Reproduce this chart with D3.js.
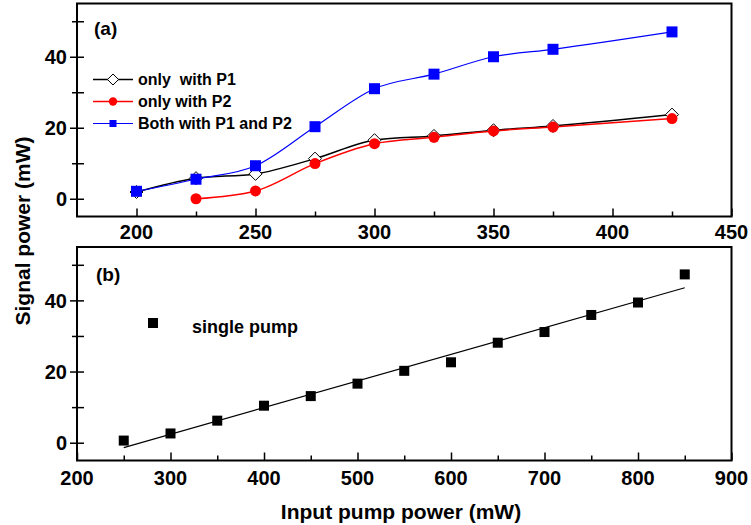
<!DOCTYPE html>
<html>
<head>
<meta charset="utf-8">
<script src="https://cdn.jsdelivr.net/npm/d3@7"></script>
<style>
  html, body { margin: 0; padding: 0; background: #fff; }
  svg { display: block; font-family: "Liberation Sans", Arial, sans-serif; font-weight: bold; }
</style>
</head>
<body>
<svg id="chart" width="751" height="525"></svg>
<script>
// ---- Panel (a): signal power for the three pump configurations ----
const pumpA      = [200, 225, 250, 275, 300, 325, 350, 375, 425];
const onlyP1     = [1.9, 5.8, 7.0, 11.3, 16.5, 17.7, 19.3, 20.5, 23.7];
const onlyP2     = [null, 0.0, 2.2, 9.9, 15.5, 17.3, 19.1, 20.2, 22.6];
const bothP1P2   = [2.1, 5.5, 9.3, 20.3, 31.0, 35.1, 40.0, 42.1, 47.0];
const namesA     = ["only  with P1", "only with P2", "Both with P1 and P2"];
const xTicksA    = [200, 250, 300, 350, 400, 450];
const xMinorA    = [225, 275, 325, 375, 425];

// ---- Panel (b): single pump ----
const pumpB      = [250, 300, 350, 400, 450, 500, 550, 600, 650, 700, 750, 800, 850];
const singlePump = [0.6, 2.6, 6.2, 10.4, 13.1, 16.6, 20.2, 22.6, 28.1, 31.1, 35.9, 39.4, 47.3];
const nameB      = "single pump";
const xTicksB    = [200, 300, 400, 500, 600, 700, 800, 900];
const xMinorB    = [250, 350, 450, 550, 650, 750, 850];

const yTicks     = [0, 20, 40];
const yMinor     = [10, 30, 50];

const svg = d3.select("#chart");
const left = 77, right = 731.5;

function frame(g, x, y, xt, xm, labelOffset) {
  const [y0, y1] = y.range();
  // inward x ticks
  g.append("g").attr("transform", `translate(0,${y0})`)
    .call(d3.axisBottom(x).tickValues(xt).tickSize(-8).tickFormat(""))
    .call(a => a.select(".domain").remove());
  g.append("g").attr("transform", `translate(0,${y0})`)
    .call(d3.axisBottom(x).tickValues(xm).tickSize(-5).tickFormat(""))
    .call(a => a.select(".domain").remove());
  // x tick labels
  g.append("g").selectAll("text").data(xt).join("text")
    .attr("x", d => x(d)).attr("y", y0 + labelOffset)
    .attr("text-anchor", "middle").attr("font-size", 20).text(d => d);
  // y ticks crossing the axis
  g.append("g").attr("transform", `translate(${left},0)`)
    .call(d3.axisLeft(y).tickValues(yTicks).tickSize(7).tickFormat(""))
    .call(a => a.select(".domain").remove());
  g.append("g").attr("transform", `translate(${left},0)`)
    .call(d3.axisRight(y).tickValues(yTicks.concat(yMinor)).tickSize(7).tickFormat(""))
    .call(a => a.select(".domain").remove());
  g.append("g").attr("transform", `translate(${left},0)`)
    .call(d3.axisLeft(y).tickValues(yMinor).tickSize(5).tickFormat(""))
    .call(a => a.select(".domain").remove());
  g.selectAll(".tick line").attr("stroke", "#000").attr("stroke-width", 1.5);
  g.append("g").selectAll("text").data(yTicks).join("text")
    .attr("x", left - 10).attr("y", d => y(d)).attr("dy", "0.36em")
    .attr("text-anchor", "end").attr("font-size", 20).text(d => d);
  // box
  g.append("rect").attr("x", left).attr("y", y1)
    .attr("width", right - left).attr("height", y0 - y1)
    .attr("fill", "none").attr("stroke", "#000").attr("stroke-width", 2);
}

// ================= Panel (a) =================
const xA = d3.scaleLinear().domain([175, 450]).range([left, right]);
const yA = d3.scaleLinear().domain([-5, 55]).range([216.5, 3.5]);
const gA = svg.append("g");
frame(gA, xA, yA, xTicksA, xMinorA, 22);

const seriesA = [
  { name: namesA[0], values: onlyP1,   color: "#000000", width: 1.5, shape: "diamond" },
  { name: namesA[1], values: onlyP2,   color: "#ff0000", width: 1.5, shape: "circle" },
  { name: namesA[2], values: bothP1P2, color: "#0000ff", width: 1.2, shape: "square" }
];

function marker(sel, shape, color, s) {
  if (shape === "diamond") {
    sel.append("path").attr("d", `M0,${-s}L${s},0L0,${s}L${-s},0Z`)
      .attr("fill", "#fff").attr("stroke", "#000").attr("stroke-width", 1);
  } else if (shape === "circle") {
    sel.append("circle").attr("r", s).attr("fill", color);
  } else {
    sel.append("rect").attr("x", -s).attr("y", -s).attr("width", 2 * s).attr("height", 2 * s)
      .attr("fill", color);
  }
}

seriesA.forEach(s => {
  const pts = pumpA.map((p, i) => [p, s.values[i]]).filter(d => d[1] !== null);
  gA.append("path").datum(pts)
    .attr("d", d3.line().x(d => xA(d[0])).y(d => yA(d[1])).curve(d3.curveMonotoneX))
    .attr("fill", "none").attr("stroke", s.color).attr("stroke-width", s.width);
  const sizes = { diamond: 6.5, circle: 5.5, square: 5.5 };
  gA.append("g").selectAll("g").data(pts).join("g")
    .attr("transform", d => `translate(${xA(d[0])},${yA(d[1])})`)
    .each(function () { marker(d3.select(this), s.shape, s.color, sizes[s.shape]); });
});

// legend (a)
gA.append("text").attr("x", 94).attr("y", 35).attr("font-size", 19).text("(a)");
const legA = gA.append("g");
const legSizes = { diamond: 5.5, circle: 4.2, square: 3.5 };
seriesA.forEach((s, i) => {
  const cy = 79.5 + i * 22;
  legA.append("line").attr("x1", 93).attr("x2", 133).attr("y1", cy).attr("y2", cy)
    .attr("stroke", s.color).attr("stroke-width", s.width);
  const m = legA.append("g").attr("transform", `translate(113,${cy})`);
  marker(m, s.shape, s.color, legSizes[s.shape]);
  legA.append("text").attr("x", 138).attr("y", cy + 5.5).attr("font-size", 16)
    .style("white-space", "pre").text(s.name);
});

// ================= Panel (b) =================
const xB = d3.scaleLinear().domain([200, 900]).range([left, right]);
const yB = d3.scaleLinear().domain([-5, 55]).range([460.5, 247]);
const gB = svg.append("g");
frame(gB, xB, yB, xTicksB, xMinorB, 24);

// least-squares fit through the single-pump points
const mx = d3.mean(pumpB), my = d3.mean(singlePump);
const slope = d3.sum(pumpB, (p, i) => (p - mx) * (singlePump[i] - my)) /
              d3.sum(pumpB, p => (p - mx) * (p - mx));
const icpt = my - slope * mx;
const fitEnds = d3.extent(pumpB);
gB.append("line")
  .attr("x1", xB(fitEnds[0])).attr("y1", yB(icpt + slope * fitEnds[0]))
  .attr("x2", xB(fitEnds[1])).attr("y2", yB(icpt + slope * fitEnds[1]))
  .attr("stroke", "#000").attr("stroke-width", 1.2);

gB.append("g").selectAll("rect").data(pumpB).join("rect")
  .attr("x", (d) => xB(d) - 5).attr("y", (d, i) => yB(singlePump[i]) - 5)
  .attr("width", 10).attr("height", 10).attr("fill", "#000");

gB.append("text").attr("x", 96).attr("y", 281).attr("font-size", 19).text("(b)");
gB.append("rect").attr("x", 148).attr("y", 318).attr("width", 10).attr("height", 10).attr("fill", "#000");
gB.append("text").attr("x", 192).attr("y", 333).attr("font-size", 18).text(nameB);

// ================= axis titles =================
svg.append("text").attr("transform", "translate(30,231) rotate(-90)")
  .attr("text-anchor", "middle").attr("font-size", 21).text("Signal power (mW)");
svg.append("text").attr("x", 401).attr("y", 519)
  .attr("text-anchor", "middle").attr("font-size", 21).text("Input pump power (mW)");
</script>
</body>
</html>
